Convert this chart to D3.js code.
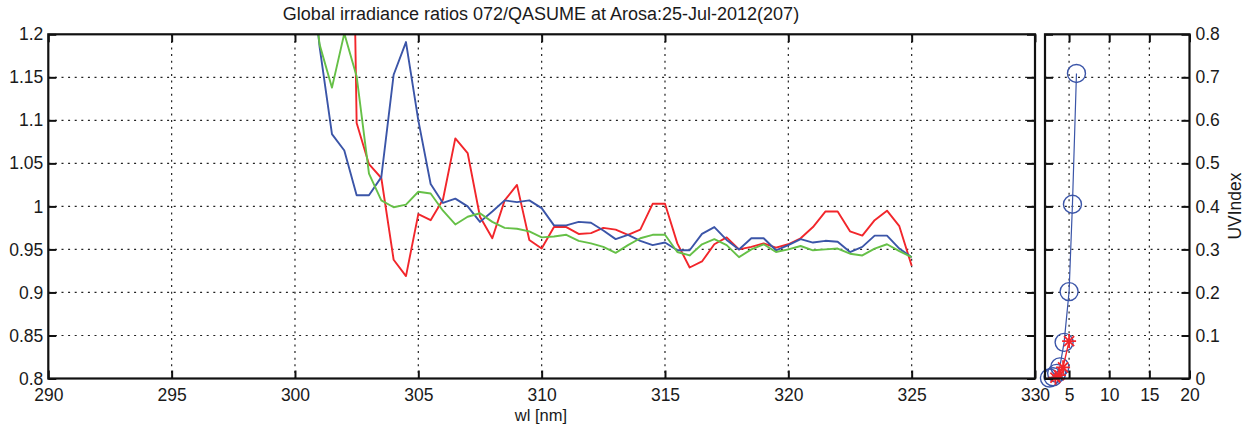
<!DOCTYPE html>
<html>
<head>
<meta charset="utf-8">
<script src="https://cdn.jsdelivr.net/npm/d3@7"></script>
<style>
  html, body { margin: 0; padding: 0; background: #fff; }
  svg { display: block; }
  text { font-family: "Liberation Sans", Arial, Helvetica, sans-serif; fill: #1a1a1a; }
</style>
</head>
<body>
<svg id="chart" width="1252" height="434"></svg>
<script>
// Wavelength grid (nm) shared by the three ratio curves
const wavelength = [300.5, 301, 301.5, 302, 302.5, 303, 303.5, 304, 304.5, 305,
  305.5, 306, 306.5, 307, 307.5, 308, 308.5, 309, 309.5, 310,
  310.5, 311, 311.5, 312, 312.5, 313, 313.5, 314, 314.5, 315,
  315.5, 316, 316.5, 317, 317.5, 318, 318.5, 319, 319.5, 320,
  320.5, 321, 321.5, 322, 322.5, 323, 323.5, 324, 324.5, 325];

// Irradiance ratios, one array per curve (null = no sample)
const ratioRed = [null, null, null, 2.0, 1.097, 1.049, 1.033, 0.938, 0.919, 0.991,
  0.984, 1.008, 1.079, 1.062, 0.988, 0.963, 1.007, 1.025, 0.961, 0.951,
  0.976, 0.976, 0.968, 0.969, 0.975, 0.973, 0.967, 0.973, 1.003, 1.003,
  0.957, 0.929, 0.936, 0.956, 0.964, 0.950, 0.953, 0.957, 0.952, 0.956,
  0.963, 0.976, 0.994, 0.994, 0.971, 0.966, 0.984, 0.995, 0.977, 0.931];

const ratioBlue = [1.32, 1.185, 1.084, 1.065, 1.013, 1.013, 1.034, 1.153, 1.191, 1.100,
  1.026, 1.004, 1.009, 1.000, 0.982, 0.994, 1.007, 1.005, 1.007, 0.998,
  0.978, 0.978, 0.982, 0.981, 0.972, 0.962, 0.967, 0.960, 0.955, 0.958,
  0.949, 0.949, 0.968, 0.976, 0.961, 0.950, 0.963, 0.963, 0.949, 0.955,
  0.962, 0.958, 0.960, 0.959, 0.947, 0.953, 0.966, 0.966, 0.951, 0.941];

const ratioGreen = [1.30, 1.188, 1.138, 1.201, 1.151, 1.038, 1.007, 0.999, 1.002, 1.017,
  1.015, 0.995, 0.979, 0.988, 0.992, 0.982, 0.975, 0.974, 0.971, 0.964,
  0.965, 0.967, 0.960, 0.957, 0.953, 0.946, 0.955, 0.963, 0.967, 0.967,
  0.947, 0.943, 0.956, 0.962, 0.955, 0.941, 0.950, 0.956, 0.947, 0.950,
  0.954, 0.949, 0.950, 0.951, 0.945, 0.943, 0.951, 0.956, 0.948, 0.941];

// UV index panel: blue circles and red stars
const uvBlueX = [2.55, 3.0, 3.45, 3.85, 4.38, 5.0, 5.42, 5.92];
const uvBlueY = [0.001, 0.004, 0.012, 0.027, 0.084, 0.202, 0.405, 0.709];
const uvRedX = [3.3, 3.75, 4.25, 5.0];
const uvRedY = [0.002, 0.008, 0.026, 0.087];

// Tick labels
const wlTicks = [290, 295, 300, 305, 310, 315, 320, 325, 330];
const ratioTicks = [0.8, 0.85, 0.9, 0.95, 1, 1.05, 1.1, 1.15, 1.2];
const uvXTicks = [5, 10, 15, 20];
const uvYTicks = [0, 0.1, 0.2, 0.3, 0.4, 0.5, 0.6, 0.7, 0.8];

const titleText = "Global irradiance ratios 072/QASUME at Arosa:25-Jul-2012(207)";
const xLabelText = "wl [nm]";
const uvLabelText = "UVIndex";

const colors = { red: "#f2262b", blue: "#3b55a8", green: "#66c047" };

const svg = d3.select("#chart");

// Geometry of the two axes boxes
const main = { left: 48.3, right: 1035, top: 34.3, bottom: 378.5 };
const side = { left: 1045, right: 1189.5, top: 34.3, bottom: 378.5 };

const x = d3.scaleLinear().domain([290, 330]).range([main.left, main.right]);
const y = d3.scaleLinear().domain([0.8, 1.2]).range([main.bottom, main.top]);
const ux = d3.scaleLinear().domain([2, 20]).range([side.left, side.right]);
const uy = d3.scaleLinear().domain([0, 0.8]).range([side.bottom, side.top]);

const tickFont = 17.5;
const gridDash = "2,4.6";

function styleAxis(g) {
  g.select(".domain").remove();
  g.selectAll(".tick line").attr("stroke", "#111").attr("stroke-width", 2);
  g.selectAll(".tick text").attr("font-size", tickFont).attr("fill", "#1a1a1a")
    .attr("font-family", '"Liberation Sans", Arial, sans-serif');
}

function drawGrid(g, xs, ys, xVals, yVals, box) {
  g.selectAll(null).data(xVals).enter().append("line")
    .attr("x1", d => xs(d)).attr("x2", d => xs(d))
    .attr("y1", box.top).attr("y2", box.bottom)
    .attr("stroke", "#222").attr("stroke-width", 1.2).attr("stroke-dasharray", gridDash);
  g.selectAll(null).data(yVals).enter().append("line")
    .attr("x1", box.left).attr("x2", box.right)
    .attr("y1", d => ys(d)).attr("y2", d => ys(d))
    .attr("stroke", "#222").attr("stroke-width", 1.2).attr("stroke-dasharray", gridDash);
}

// ---------- Main panel: spectral ratios ----------
drawGrid(svg.append("g"), x, y,
  wlTicks.filter(d => d > 290 && d < 330),
  ratioTicks.filter(d => d > 0.8 && d < 1.2), main);

svg.append("defs").append("clipPath").attr("id", "mainClip")
  .append("rect").attr("x", main.left).attr("y", main.top)
  .attr("width", main.right - main.left).attr("height", main.bottom - main.top);

const line = d3.line()
  .defined(d => d[1] !== null)
  .x(d => x(d[0])).y(d => y(d[1]));

const series = [
  { values: ratioRed, color: colors.red },
  { values: ratioBlue, color: colors.blue },
  { values: ratioGreen, color: colors.green }
];
const lines = svg.append("g").attr("clip-path", "url(#mainClip)");
series.forEach(s => {
  lines.append("path")
    .datum(wavelength.map((w, i) => [w, s.values[i]]))
    .attr("fill", "none").attr("stroke", s.color).attr("stroke-width", 1.9)
    .attr("stroke-linejoin", "round")
    .attr("d", line);
});

// Axes with inward ticks on all four sides
const tick = 8;
svg.append("g").attr("transform", `translate(0,${main.bottom})`)
  .call(d3.axisBottom(x).tickValues(wlTicks).tickSize(-tick).tickPadding(10).tickFormat(d3.format("d")))
  .call(styleAxis);
svg.append("g").attr("transform", `translate(0,${main.top})`)
  .call(d3.axisTop(x).tickValues(wlTicks).tickSize(-tick).tickFormat(""))
  .call(styleAxis);
svg.append("g").attr("transform", `translate(${main.left},0)`)
  .call(d3.axisLeft(y).tickValues(ratioTicks).tickSize(-tick).tickPadding(5).tickFormat(d => String(+d.toFixed(2))))
  .call(styleAxis);
svg.append("g").attr("transform", `translate(${main.right},0)`)
  .call(d3.axisRight(y).tickValues(ratioTicks).tickSize(-tick).tickFormat(""))
  .call(styleAxis);

svg.append("rect")
  .attr("x", main.left).attr("y", main.top)
  .attr("width", main.right - main.left).attr("height", main.bottom - main.top)
  .attr("fill", "none").attr("stroke", "#111").attr("stroke-width", 2.2);

// ---------- Side panel: UV index ----------
drawGrid(svg.append("g"), ux, uy,
  uvXTicks.filter(d => d < 20),
  uvYTicks.filter(d => d > 0 && d < 0.8), side);

const sideG = svg.append("g");
const uvBlue = uvBlueX.map((v, i) => [v, uvBlueY[i]]);
const uvRed = uvRedX.map((v, i) => [v, uvRedY[i]]);
const uvLine = d3.line().x(d => ux(d[0])).y(d => uy(d[1]));

sideG.append("path").datum(uvBlue)
  .attr("fill", "none").attr("stroke", colors.blue).attr("stroke-width", 1.2)
  .attr("d", uvLine);
sideG.selectAll("circle").data(uvBlue).enter().append("circle")
  .attr("cx", d => ux(d[0])).attr("cy", d => uy(d[1])).attr("r", 9)
  .attr("fill", "none").attr("stroke", colors.blue).attr("stroke-width", 1.4);

sideG.append("path").datum(uvRed)
  .attr("fill", "none").attr("stroke", colors.red).attr("stroke-width", 1.4)
  .attr("d", uvLine);
const star = 7;
sideG.selectAll("path.star").data(uvRed).enter().append("path")
  .attr("class", "star")
  .attr("transform", d => `translate(${ux(d[0])},${uy(d[1])})`)
  .attr("d", `M${-star},0H${star}M0,${-star}V${star}` +
    `M${-star * 0.72},${-star * 0.72}L${star * 0.72},${star * 0.72}` +
    `M${-star * 0.72},${star * 0.72}L${star * 0.72},${-star * 0.72}`)
  .attr("fill", "none").attr("stroke", colors.red).attr("stroke-width", 1.8);

svg.append("g").attr("transform", `translate(0,${side.bottom})`)
  .call(d3.axisBottom(ux).tickValues(uvXTicks).tickSize(-tick).tickPadding(10).tickFormat(d3.format("d")))
  .call(styleAxis);
svg.append("g").attr("transform", `translate(0,${side.top})`)
  .call(d3.axisTop(ux).tickValues(uvXTicks).tickSize(-tick).tickFormat(""))
  .call(styleAxis);
svg.append("g").attr("transform", `translate(${side.right},0)`)
  .call(d3.axisRight(uy).tickValues(uvYTicks).tickSize(-tick).tickPadding(6).tickFormat(d => String(+d.toFixed(1))))
  .call(styleAxis);
svg.append("g").attr("transform", `translate(${side.left},0)`)
  .call(d3.axisLeft(uy).tickValues(uvYTicks).tickSize(-tick).tickFormat(""))
  .call(styleAxis);

svg.append("rect")
  .attr("x", side.left).attr("y", side.top)
  .attr("width", side.right - side.left).attr("height", side.bottom - side.top)
  .attr("fill", "none").attr("stroke", "#111").attr("stroke-width", 2.2);

// ---------- Titles and axis labels ----------
svg.append("text").attr("x", 541).attr("y", 20)
  .attr("text-anchor", "middle").attr("font-size", 18).text(titleText);
svg.append("text").attr("x", 541).attr("y", 421)
  .attr("text-anchor", "middle").attr("font-size", 16.5).text(xLabelText);
svg.append("text")
  .attr("transform", "translate(1241,206) rotate(-90)")
  .attr("text-anchor", "middle").attr("font-size", 17.5).text(uvLabelText);
</script>
</body>
</html>
